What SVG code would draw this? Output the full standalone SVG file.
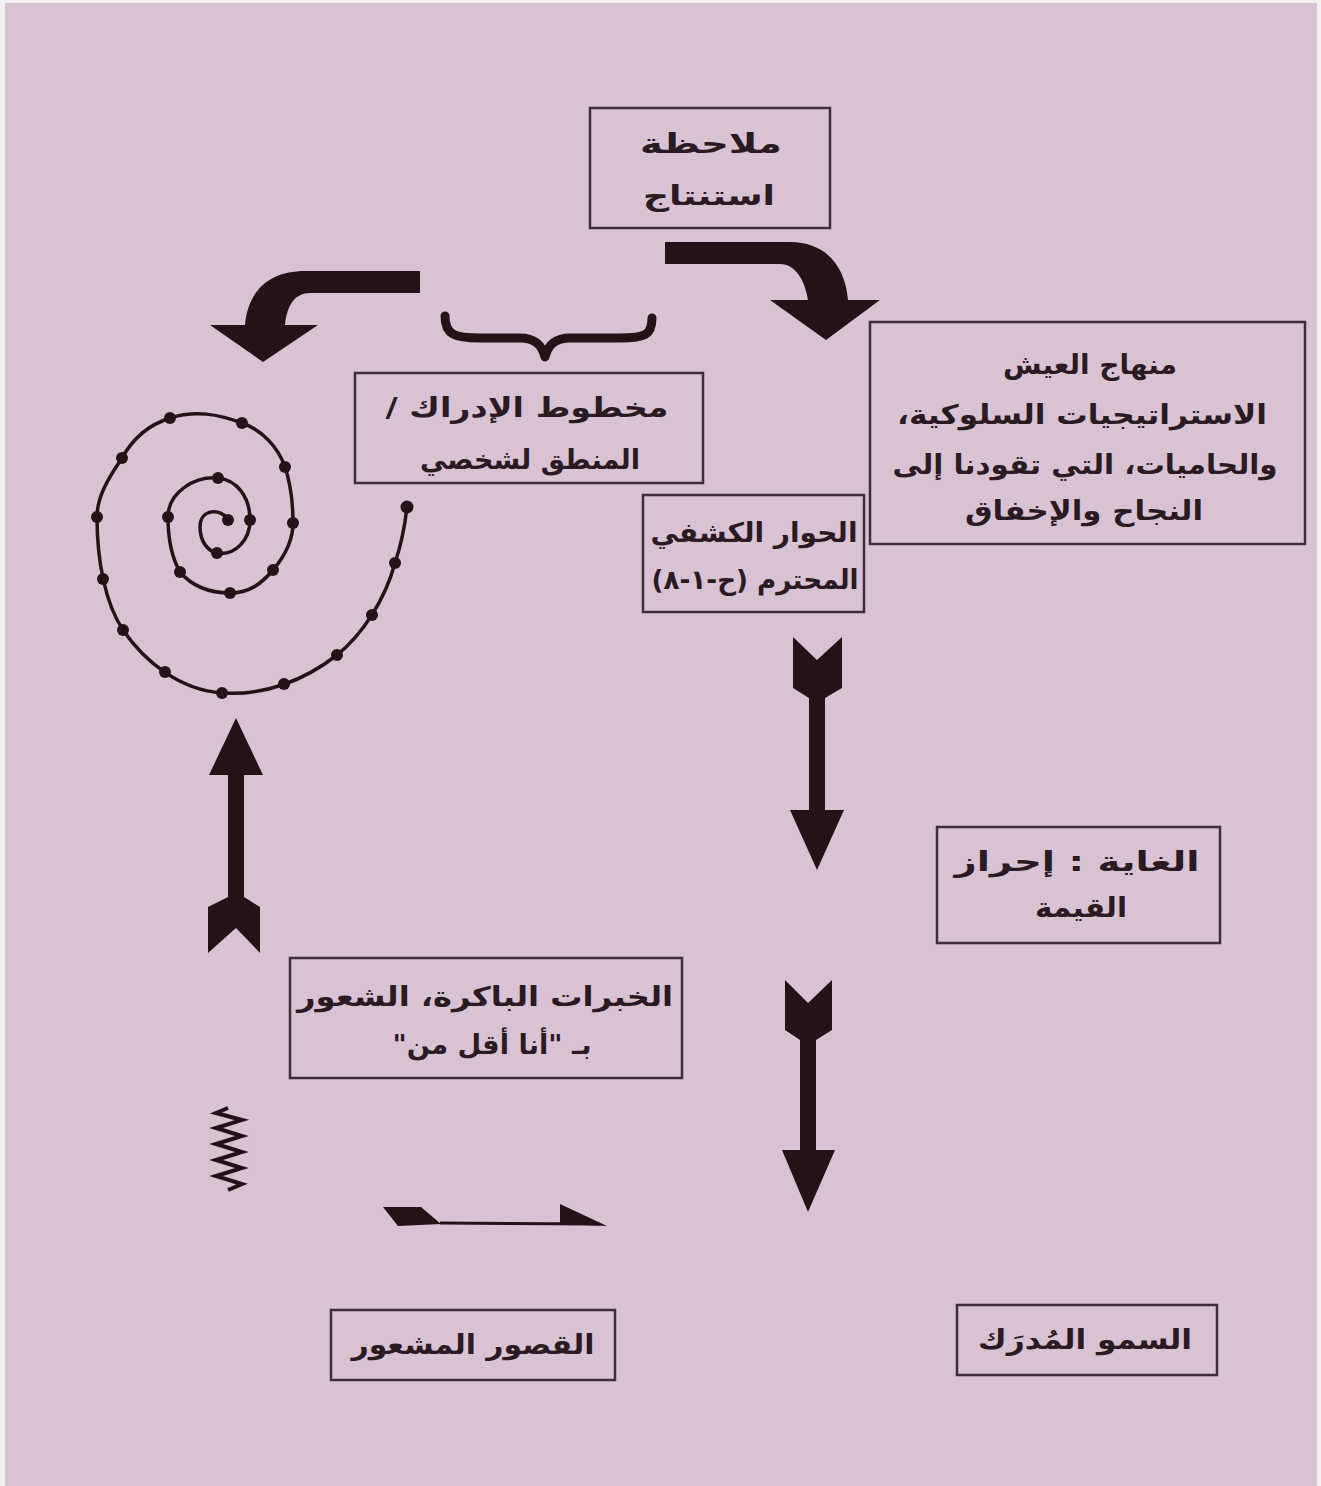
<svg xmlns="http://www.w3.org/2000/svg" width="1321" height="1486" viewBox="0 0 1321 1486">
<style>
.box{fill:none;stroke:#3e2e38;stroke-width:2.5}
.t{font-family:"DejaVu Sans","Noto Sans",sans-serif;font-weight:bold;font-size:27px;fill:#2a1a22;text-anchor:middle}
.ink{fill:#241219}
.line{fill:none;stroke:#241219;stroke-width:3.5;stroke-linecap:round;stroke-linejoin:round}
.dot{fill:#241219}
</style>
<rect x="0" y="0" width="1321" height="1486" fill="#f4f0f2"/>
<rect x="5" y="3" width="1312" height="1483" fill="#d9c2d3"/>

<g id="connectors">
  <path class="ink" d="M420,271 L305,271 C270,271 248,290 245,325 L210,325 L263,362 L318,325 L285,325 C287,305 295,293 310,293 L420,293 Z"/>
  <path class="ink" d="M665,242 L790,242 C825,242 845,265 848,300 L880,300 L826,340 L770,300 L808,300 C805,280 795,264 780,264 L665,264 Z"/>
  <path fill="none" stroke="#241219" stroke-width="9" stroke-linecap="round" stroke-linejoin="round" d="M445,316 C445,335 455,338 480,338 L520,338 C535,338 542,345 545,357 C548,345 555,338 570,338 L620,338 C645,338 652,335 652,318"/>
  <polygon class="ink" points="236,718 263,775 244,775 244,897 260,907 260,953 236,928 208,953 208,907 228,897 228,775 209,775"/>
  <polygon class="ink" points="793,637 817,660 842,637 842,688 825,698 825,810 844,810 817,870 790,810 809,810 809,698 793,688"/>
  <polygon class="ink" points="785,980 808,1003 832,980 832,1030 816,1040 816,1150 835,1150 808,1212 782,1150 800,1150 800,1040 785,1030"/>
  <polyline fill="none" stroke="#241219" stroke-width="4" points="228,1108 216,1113 242,1120 216,1128 242,1136 216,1144 242,1152 216,1160 242,1168 216,1176 242,1184 228,1190"/>
  <polygon class="ink" points="383,1207 421,1207 441,1224 398,1226"/>
  <line x1="440" y1="1223" x2="600" y2="1224" stroke="#241219" stroke-width="3"/>
  <polygon class="ink" points="560,1204 560,1224 607,1226"/>
</g>

<g id="spiral">
  <path class="line" d="M228,520 C222,508 200,508 200,527 C200,542 208,551 217,553 C235,556 250,540 250,520 C250,497 237,480 218,478 C195,476 168,492 168,517 C168,540 172,558 180,572 C192,586 210,593 230,593 C250,593 262,583 273,570 C284,557 293,542 293,523 C293,503 291,485 285,467 C278,447 262,430 242,423 C218,414 195,410 170,418 C148,425 132,440 122,458 C110,476 97,495 97,517 C97,560 105,603 123,630 C145,662 180,690 222,693 C265,696 305,680 337,655 C362,635 385,600 395,563 C401,545 405,525 407,507"/>
  <g class="dot">
    <circle cx="228" cy="520" r="6"/><circle cx="217" cy="553" r="6"/><circle cx="250" cy="520" r="6"/>
    <circle cx="218" cy="478" r="6"/><circle cx="168" cy="517" r="6"/><circle cx="180" cy="572" r="6"/>
    <circle cx="230" cy="593" r="6"/><circle cx="273" cy="570" r="6"/><circle cx="293" cy="523" r="6"/>
    <circle cx="285" cy="467" r="6"/><circle cx="242" cy="423" r="6"/><circle cx="170" cy="418" r="6"/>
    <circle cx="122" cy="458" r="6"/><circle cx="97" cy="517" r="6"/><circle cx="103" cy="579" r="6"/>
    <circle cx="123" cy="630" r="6"/><circle cx="165" cy="672" r="6"/><circle cx="222" cy="693" r="6"/>
    <circle cx="284" cy="684" r="6"/><circle cx="337" cy="655" r="6"/><circle cx="372" cy="615" r="6"/>
    <circle cx="395" cy="563" r="6"/><circle cx="407" cy="507" r="6.5"/>
  </g>
</g>

<g id="node-observation">
  <rect class="box" x="590" y="108" width="240" height="120"/>
  <text class="t" direction="rtl" x="711" y="153" textLength="142" lengthAdjust="spacingAndGlyphs">ملاحظة</text>
  <text class="t" direction="rtl" x="709" y="205" textLength="132" lengthAdjust="spacingAndGlyphs">استنتاج</text>
</g>

<g id="node-lifestyle">
  <rect class="box" x="870" y="322" width="435" height="222"/>
  <text class="t" direction="rtl" x="1090" y="374" textLength="174" lengthAdjust="spacingAndGlyphs">منهاج العيش</text>
  <text class="t" direction="rtl" x="1082" y="424" textLength="370" lengthAdjust="spacingAndGlyphs">الاستراتيجيات السلوكية،</text>
  <text class="t" direction="rtl" x="1085" y="474" textLength="385" lengthAdjust="spacingAndGlyphs">والحاميات، التي تقودنا إلى</text>
  <text class="t" direction="rtl" x="1084" y="520" textLength="238" lengthAdjust="spacingAndGlyphs">النجاح والإخفاق</text>
</g>

<g id="node-schema">
  <rect class="box" x="355" y="373" width="348" height="110"/>
  <text class="t" direction="rtl" x="527" y="417" textLength="283" lengthAdjust="spacingAndGlyphs">مخطوط الإدراك /</text>
  <text class="t" direction="rtl" x="530" y="469" textLength="220" lengthAdjust="spacingAndGlyphs">المنطق لشخصي</text>
</g>

<g id="node-dialogue">
  <rect class="box" x="643" y="495" width="221" height="117"/>
  <text class="t" direction="rtl" x="754" y="542" textLength="207" lengthAdjust="spacingAndGlyphs">الحوار الكشفي</text>
  <text class="t" direction="rtl" x="755" y="589" textLength="207" lengthAdjust="spacingAndGlyphs">المحترم (ح-١-٨)</text>
</g>

<g id="node-goal">
  <rect class="box" x="937" y="827" width="283" height="116"/>
  <text class="t" direction="rtl" x="1077" y="871" textLength="245" lengthAdjust="spacingAndGlyphs">الغاية : إحراز</text>
  <text class="t" direction="rtl" x="1081" y="917" textLength="92" lengthAdjust="spacingAndGlyphs">القيمة</text>
</g>

<g id="node-experiences">
  <rect class="box" x="290" y="958" width="392" height="120"/>
  <text class="t" direction="rtl" x="485" y="1006" textLength="376" lengthAdjust="spacingAndGlyphs">الخبرات الباكرة، الشعور</text>
  <text class="t" direction="rtl" x="492" y="1054" textLength="199" lengthAdjust="spacingAndGlyphs">بـ "أنا أقل من"</text>
</g>

<g id="node-inferiority">
  <rect class="box" x="331" y="1310" width="284" height="70"/>
  <text class="t" direction="rtl" x="473" y="1354" textLength="243" lengthAdjust="spacingAndGlyphs">القصور المشعور</text>
</g>

<g id="node-superiority">
  <rect class="box" x="957" y="1305" width="260" height="70"/>
  <text class="t" direction="rtl" x="1085" y="1349" textLength="214" lengthAdjust="spacingAndGlyphs">السمو المُدرَك</text>
</g>
</svg>
